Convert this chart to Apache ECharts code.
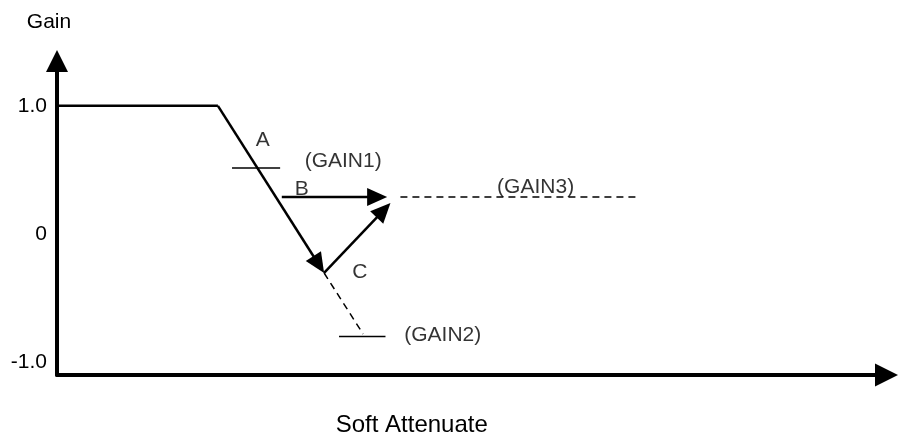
<!DOCTYPE html>
<html>
<head>
<meta charset="utf-8">
<script src="https://cdn.jsdelivr.net/npm/echarts@6/dist/echarts.min.js"></script>
<style>
  html, body { margin: 0; padding: 0; background: #fff; }
  #chart { width: 916px; height: 435px; }
</style>
</head>
<body>
<div id="chart"></div>
<script>
// axis ranges and tick labels (gain vs. soft attenuate, arbitrary x units)
const xRange = [0, 10]
const yRange = [-1.1, 1.35]
const yTicks = [-1, 0, 1]

// gain curve: flat at 1.0 before it starts falling
const flatGain = [[0, 1.0], [1.94, 1.0]]
// solid arrows [x1, y1, x2, y2]: A (falling gain), B (jump to GAIN3), C (recover from low point)
const arrows = [
  [1.94, 1.0, 3.22, -0.304],
  [2.71, 0.288, 3.98, 0.288],
  [3.22, -0.304, 4.02, 0.242]
]
// dashed continuations
const dashSlope = [[3.22, -0.304], [3.69, -0.78]]
const dashGain3 = [[4.14, 0.288], [6.98, 0.288]]
// short level markers
const levelGain1 = [[2.11, 0.515], [2.69, 0.515]]
const levelGain2 = [[3.40, -0.80], [3.96, -0.80]]
// annotation texts [x, y, text]
const notes = [
  [2.48, 0.733, 'A'],
  [3.45, 0.569, '(GAIN1)'],
  [2.95, 0.351, 'B'],
  [5.77, 0.366, '(GAIN3)'],
  [3.65, -0.297, 'C'],
  [4.65, -0.79, '(GAIN2)']
]

const font = '"Liberation Sans", Arial, sans-serif'
const chart = echarts.init(document.getElementById('chart'))

function plain(data, width, dashed) {
  return {
    type: 'line',
    data: data,
    symbol: 'none',
    silent: true,
    lineStyle: { color: '#000', width: width, type: dashed ? [7, 5] : 'solid' }
  }
}

// line with a filled triangle head whose tip sits on the end point
function renderArrow(params, api) {
  const p1 = api.coord([api.value(0), api.value(1)])
  const p2 = api.coord([api.value(2), api.value(3)])
  const dx = p2[0] - p1[0]
  const dy = p2[1] - p1[1]
  const len = Math.sqrt(dx * dx + dy * dy)
  const ux = dx / len
  const uy = dy / len
  const headLen = 20
  const headW = 18
  const bx = p2[0] - ux * headLen
  const by = p2[1] - uy * headLen
  return {
    type: 'group',
    children: [
      {
        type: 'line',
        shape: { x1: p1[0], y1: p1[1], x2: bx + ux * 2, y2: by + uy * 2 },
        style: { stroke: '#000', lineWidth: 2.5 }
      },
      {
        type: 'polygon',
        shape: {
          points: [
            [p2[0], p2[1]],
            [bx - uy * headW / 2, by + ux * headW / 2],
            [bx + uy * headW / 2, by - ux * headW / 2]
          ]
        },
        style: { fill: '#000' }
      }
    ]
  }
}

let option = {
  animation: false,
  grid: { left: 57, right: 29.5, top: 61, bottom: 60, outerBoundsMode: 'none' },
  xAxis: {
    type: 'value',
    min: xRange[0],
    max: xRange[1],
    name: 'Soft Attenuate',
    nameLocation: 'middle',
    nameGap: 38,
    nameTextStyle: { color: '#000', fontFamily: font, fontSize: 24, padding: [0, 120, 0, 0] },
    axisLine: {
      onZero: false,
      symbol: ['none', 'triangle'],
      symbolSize: [23, 23],
      lineStyle: { color: '#000', width: 4 }
    },
    axisTick: { show: false },
    axisLabel: { show: false },
    splitLine: { show: false }
  },
  yAxis: {
    type: 'value',
    min: yRange[0],
    max: yRange[1],
    name: 'Gain',
    nameLocation: 'end',
    nameGap: 28,
    nameTextStyle: { color: '#000', fontFamily: font, fontSize: 21, padding: [0, 16, 0, 0] },
    axisLine: {
      onZero: false,
      symbol: ['none', 'triangle'],
      symbolSize: [22, 22],
      lineStyle: { color: '#000', width: 4 }
    },
    axisTick: { show: false },
    axisLabel: {
      customValues: yTicks,
      color: '#000',
      fontFamily: font,
      fontSize: 21,
      margin: 10,
      formatter: v => (v === 0 ? '0' : v.toFixed(1))
    },
    splitLine: { show: false }
  },
  series: [
    plain(flatGain, 2.5, false),
    {
      type: 'custom',
      silent: true,
      renderItem: renderArrow,
      encode: { x: [0, 2], y: [1, 3] },
      data: arrows
    },
    plain(dashSlope, 1.5, true),
    plain(dashGain3, 1.5, true),
    plain(levelGain1, 1.5, false),
    plain(levelGain2, 1.5, false),
    {
      type: 'scatter',
      silent: true,
      symbolSize: 0,
      data: notes,
      label: {
        show: true,
        position: 'inside',
        color: '#000',
        fontFamily: font,
        fontSize: 21,
        formatter: p => p.data[2]
      }
    }
  ]
}
option && chart.setOption(option)
</script>
</body>
</html>
